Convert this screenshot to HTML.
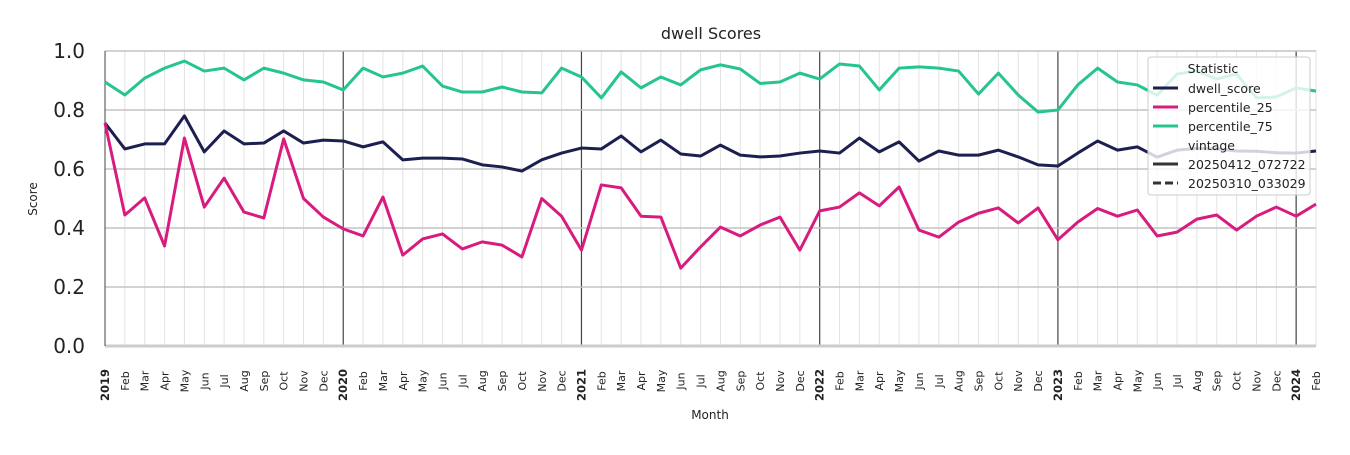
<!DOCTYPE html>
<html><head><meta charset="utf-8"><style>
body{margin:0;background:#fff;font-family:"Liberation Sans","DejaVu Sans",sans-serif}
svg text{font-family:"DejaVu Sans","Liberation Sans",sans-serif;fill:#222}
</style></head><body>
<svg id="chart" width="1350" height="450" xmlns="http://www.w3.org/2000/svg">
<text x="711" y="39" font-size="16" text-anchor="middle">dwell Scores</text>
<text transform="translate(37,199) rotate(-90)" font-size="12" text-anchor="middle">Score</text>
<text x="710" y="419" font-size="12" text-anchor="middle">Month</text>
<g id="grid"></g><g id="lines"></g><g id="ticks"></g>
<g>
<rect x="1148" y="57" width="162" height="138" rx="3" fill="#fff" fill-opacity="0.8" stroke="#ccc"/>
<text x="1213" y="73" font-size="12.5" text-anchor="middle">Statistic</text>
<line x1="1153" x2="1178" y1="88" y2="88" stroke="#1c1f4f" stroke-width="3"/><text x="1188" y="93" font-size="12.5">dwell_score</text>
<line x1="1153" x2="1178" y1="107" y2="107" stroke="#d81b7f" stroke-width="3"/><text x="1188" y="112" font-size="12.5">percentile_25</text>
<line x1="1153" x2="1178" y1="126" y2="126" stroke="#26c48f" stroke-width="3"/><text x="1188" y="131" font-size="12.5">percentile_75</text>
<text x="1188" y="150" font-size="12.5">vintage</text>
<line x1="1153" x2="1178" y1="164" y2="164" stroke="#333" stroke-width="3"/><text x="1188" y="169" font-size="12.5">20250412_072722</text>
<line x1="1153" x2="1178" y1="183" y2="183" stroke="#333" stroke-width="3" stroke-dasharray="8,4"/><text x="1188" y="188" font-size="12.5">20250310_033029</text>
</g>
</svg>
<script>
const monthNames=["Jan","Feb","Mar","Apr","May","Jun","Jul","Aug","Sep","Oct","Nov","Dec"];
const yTicks=[0,0.2,0.4,0.6,0.8,1.0];
const dwellScore=[0.756,0.668,0.685,0.685,0.78,0.658,0.729,0.685,0.688,0.729,0.688,0.698,
0.695,0.675,0.692,0.631,0.637,0.637,0.634,0.614,0.607,0.593,0.631,0.654,
0.671,0.668,0.712,0.658,0.698,0.651,0.644,0.681,0.647,0.641,0.644,0.654,
0.661,0.654,0.705,0.658,0.692,0.627,0.661,0.647,0.647,0.664,0.641,0.614,
0.61,0.654,0.695,0.664,0.675,0.64,0.664,0.67,0.668,0.661,0.66,0.655,0.654,0.661];
const percentile25=[0.756,0.444,0.502,0.339,0.705,0.471,0.569,0.454,0.434,0.702,0.5,0.437,
0.397,0.373,0.505,0.308,0.363,0.38,0.329,0.353,0.342,0.302,0.5,0.44,
0.325,0.546,0.536,0.44,0.437,0.264,0.336,0.403,0.373,0.41,0.437,0.325,
0.458,0.471,0.519,0.475,0.539,0.393,0.369,0.42,0.45,0.468,0.417,0.468,
0.36,0.42,0.466,0.44,0.461,0.373,0.386,0.43,0.444,0.393,0.44,0.471,0.44,0.481];
const percentile75=[0.895,0.851,0.908,0.942,0.966,0.932,0.942,0.902,0.942,0.925,0.902,0.895,
0.868,0.942,0.912,0.925,0.949,0.881,0.861,0.861,0.878,0.861,0.858,0.942,
0.912,0.841,0.929,0.875,0.912,0.885,0.936,0.953,0.939,0.89,0.895,0.925,
0.905,0.956,0.949,0.868,0.942,0.946,0.942,0.932,0.854,0.925,0.851,0.793,
0.8,0.885,0.942,0.895,0.885,0.85,0.922,0.932,0.905,0.922,0.841,0.844,0.875,0.864];
const NS="http://www.w3.org/2000/svg";
const X0=105,X1=1316,Y0=346,Y1=51,N=dwellScore.length;
const xs=i=>X0+(X1-X0)*i/(N-1);
const ys=v=>Y0-(Y0-Y1)*v;
function mk(tag,attrs,parent){const e=document.createElementNS(NS,tag);for(const k in attrs)e.setAttribute(k,attrs[k]);parent.appendChild(e);return e;}
const grid=document.getElementById('grid'),lines=document.getElementById('lines'),ticks=document.getElementById('ticks');
for(let i=0;i<N;i++){
  const yr=i%12===0;
  const l=mk('line',{x1:xs(i),x2:xs(i),y1:Y1,y2:Y0,stroke:yr&&i>0?'#444':'#e2e2e2','stroke-width':yr&&i>0?1.2:1},grid);
  
  
  const t=mk('text',{transform:`translate(${xs(i)+4},${yr?401:385}) rotate(-90)`,'font-size':yr?11.5:11,'font-weight':yr?'bold':'normal','text-anchor':yr?'start':'middle'},ticks);
  t.textContent=yr?String(2019+i/12):monthNames[i%12];
  if(!yr)t.setAttribute('transform',`translate(${xs(i)+4},381) rotate(-90)`),t.setAttribute('text-anchor','middle');
  else t.setAttribute('transform',`translate(${xs(i)+4},401) rotate(-90)`);
  
  
}
yTicks.forEach(v=>{
  const l=mk('line',{x1:X0,x2:X1,y1:ys(v),y2:ys(v),stroke:v===0?'#ccc':'#c4c4c4','stroke-width':v===0?3:1.5},grid);
  
  
  const t=mk('text',{x:85,y:ys(v)+7,'font-size':20,'text-anchor':'end'},ticks);
  t.textContent=v.toFixed(1);
  
  
});
mk('line',{x1:X0,x2:X0,y1:Y1,y2:Y0,stroke:'#444','stroke-width':1},grid);
[[percentile75,'#26c48f','percentile-75-line'],[dwellScore,'#1c1f4f','dwell-score-line'],[percentile25,'#d81b7f','percentile-25-line']].forEach(([d,c,n])=>{
  const p=mk('polyline',{points:d.map((v,i)=>xs(i)+','+ys(v)).join(' '),fill:'none',stroke:c,'stroke-width':3,'stroke-linejoin':'round'},lines);
  
  
});
</script>
</body></html>
